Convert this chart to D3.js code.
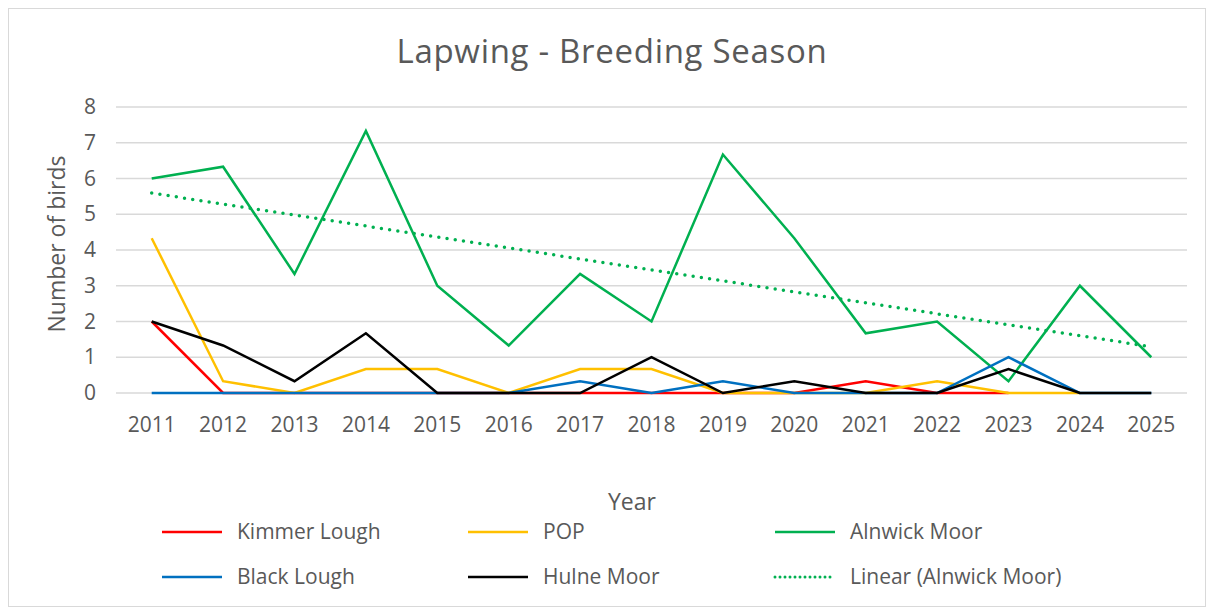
<!DOCTYPE html>
<html><head><meta charset="utf-8">
<script src="https://cdn.jsdelivr.net/npm/d3@7"></script>
<style>
html,body{margin:0;padding:0;background:#fff;}
svg text{font-family:"Open Sans","Noto Sans",sans-serif;fill:#595959;}
</style></head>
<body>
<svg id="chart" width="1214" height="608"></svg>
<script>
const years = ["2011","2012","2013","2014","2015","2016","2017","2018","2019","2020","2021","2022","2023","2024","2025"];
const kimmerLough = [2,0,0,0,0,0,0,0,0,0,0.33,0,0];
const pop = [4.33,0.33,0,0.67,0.67,0,0.67,0.67,0,0,0,0.33,0,0];
const alnwickMoor = [6,6.33,3.33,7.33,3,1.33,3.33,2,6.67,4.33,1.67,2,0.33,3,1];
const blackLough = [0,0,0,0,0,0,0.33,0,0.33,0,0,0,1,0,0];
const hulneMoor = [2,1.33,0.33,1.67,0,0,0,1,0,0.33,0,0,0.67,0,0];
const yTicks = [0,1,2,3,4,5,6,7,8];

const series = [
  {name:"Kimmer Lough", values:kimmerLough, color:"#ff0000"},
  {name:"POP", values:pop, color:"#ffc000"},
  {name:"Alnwick Moor", values:alnwickMoor, color:"#00b050"},
  {name:"Black Lough", values:blackLough, color:"#0070c0"},
  {name:"Hulne Moor", values:hulneMoor, color:"#000000"}
];

// linear trend of Alnwick Moor (least squares, as the chart's trendline)
const mx = d3.mean(alnwickMoor, (d,i)=>i), my = d3.mean(alnwickMoor);
const slope = d3.sum(alnwickMoor,(d,i)=>(i-mx)*(d-my))/d3.sum(alnwickMoor,(d,i)=>(i-mx)*(i-mx));
const trend = years.map((y,i)=>my + slope*(i-mx));

const svg = d3.select("#chart");
svg.append("rect").attr("x",8.5).attr("y",8.5).attr("width",1197).attr("height",598)
  .attr("fill","#fff").attr("stroke","#d9d9d9").attr("stroke-width",1);

const x = d3.scaleBand().domain(years).range([116,1187]);
const y = d3.scaleLinear().domain([0,8]).range([393,107]);
const cx = d => x(d)+x.bandwidth()/2;

// gridlines
svg.append("g").selectAll("line").data(yTicks).join("line")
  .attr("x1",116).attr("x2",1187).attr("y1",d=>y(d)).attr("y2",d=>y(d))
  .attr("stroke","#d9d9d9").attr("stroke-width",1.5);

// y axis labels
const ya = svg.append("g").attr("transform","translate(116,0)")
  .call(d3.axisLeft(y).tickValues(yTicks).tickSize(0).tickPadding(20));
ya.select(".domain").remove();
ya.selectAll("text").attr("font-size",21).style("fill","#595959").attr("font-family","Open Sans, sans-serif");

// x axis labels
const xa = svg.append("g").attr("transform","translate(0,393)")
  .call(d3.axisBottom(x).tickSize(0).tickPadding(24));
xa.select(".domain").remove();
xa.selectAll("text").attr("font-size",21).style("fill","#595959").attr("font-family","Open Sans, sans-serif");

const line = d3.line().x((d,i)=>cx(years[i])).y(d=>y(d));
series.forEach(s=>{
  svg.append("path").datum(s.values).attr("d",line).attr("fill","none")
    .attr("stroke",s.color).attr("stroke-width",2.5).attr("stroke-linejoin","miter");
});
svg.append("path").datum(trend).attr("d",line).attr("fill","none")
  .attr("stroke","#00b050").attr("stroke-width",3.5).attr("stroke-dasharray","0 8.3")
  .attr("stroke-linecap","round");

// title
svg.append("text").attr("x",612).attr("y",63).attr("text-anchor","middle")
  .attr("font-size",33).attr("letter-spacing","0.7px").text("Lapwing - Breeding Season");
// axis titles
svg.append("text").attr("transform","translate(65,244) rotate(-90)").attr("text-anchor","middle")
  .attr("font-size",23).text("Number of birds");
svg.append("text").attr("x",632).attr("y",510).attr("text-anchor","middle")
  .attr("font-size",23).text("Year");

// legend
const legendItems = [
  {name:"Kimmer Lough", color:"#ff0000", dash:null, col:0,row:0},
  {name:"POP", color:"#ffc000", dash:null, col:1,row:0},
  {name:"Alnwick Moor", color:"#00b050", dash:null, col:2,row:0},
  {name:"Black Lough", color:"#0070c0", dash:null, col:0,row:1},
  {name:"Hulne Moor", color:"#000000", dash:null, col:1,row:1},
  {name:"Linear (Alnwick Moor)", color:"#00b050", dash:"0 5", col:2,row:1}
];
const colX = [162,468,775], rowY = [532,577];
const lg = svg.append("g");
legendItems.forEach(d=>{
  const gx = colX[d.col], gy = rowY[d.row];
  const l = lg.append("line").attr("x1",gx).attr("x2",gx+60).attr("y1",gy).attr("y2",gy)
    .attr("stroke",d.color).attr("stroke-width",d.dash?3:2.5);
  if(d.dash) l.attr("stroke-dasharray",d.dash).attr("stroke-linecap","round");
  lg.append("text").attr("x",gx+75).attr("y",gy+7).attr("font-size",21).text(d.name);
});
</script>
</body></html>
